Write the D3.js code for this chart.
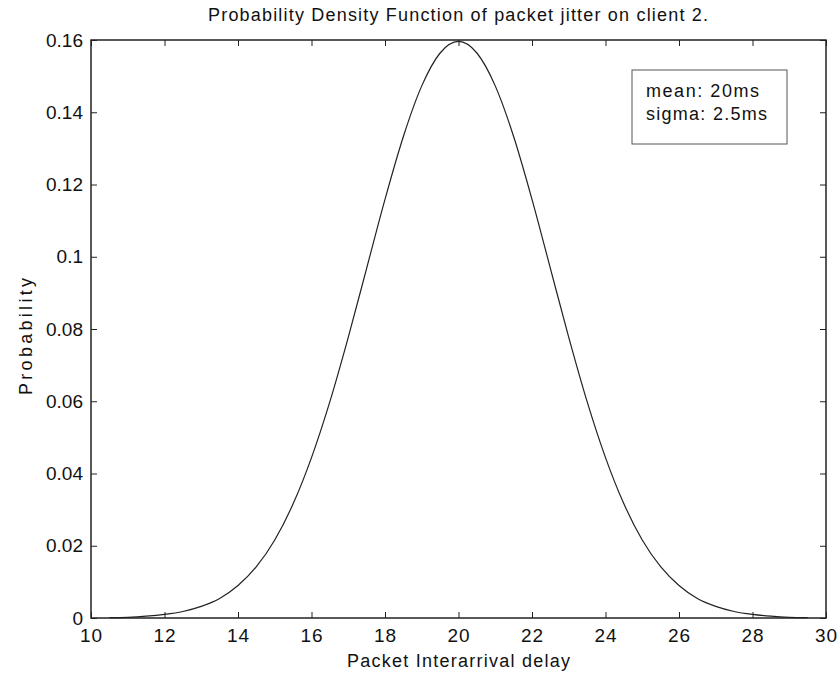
<!DOCTYPE html>
<html>
<head>
<meta charset="utf-8">
<script src="https://cdn.jsdelivr.net/npm/d3@7"></script>
<style>
  body { margin: 0; background: #fff; }
  svg { display: block; }
  text { font-family: "Liberation Sans", Arial, sans-serif; fill: #111; }
  .tick text { font-size: 19px; fill: #111; }
</style>
</head>
<body>
<div class="chart"></div>
<script>
const WIDTH = 840;
const HEIGHT = 676;

const LEFT = 91, RIGHT = 826, TOP = 40, BOTTOM = 618;

// delay (ms) and probability
var delays = [10.5, 11, 11.5, 12, 12.5, 13, 13.5, 14, 14.5, 15, 15.5, 16, 16.5, 17, 17.5, 18, 18.5, 19, 19.5, 20,
              20.5, 21, 21.5, 22, 22.5, 23, 23.5, 24, 24.5, 25, 25.5, 26, 26.5, 27, 27.5, 28, 28.5, 29, 29.5];
var probs = [0.0001, 0.0002, 0.0005, 0.0010, 0.0018, 0.0032, 0.0054, 0.0090, 0.0142, 0.0216, 0.0316, 0.0444, 0.0599,
             0.0777, 0.0968, 0.1159, 0.1333, 0.1473, 0.1564, 0.1596,
             0.1564, 0.1473, 0.1333, 0.1159, 0.0968, 0.0777, 0.0599, 0.0444, 0.0316, 0.0216, 0.0142, 0.0090,
             0.0054, 0.0032, 0.0018, 0.0010, 0.0005, 0.0002, 0.0001];

var xTicks = [10, 12, 14, 16, 18, 20, 22, 24, 26, 28, 30];
var yTicks = [0, 0.02, 0.04, 0.06, 0.08, 0.1, 0.12, 0.14, 0.16];
var legendLines = ["mean: 20ms", "sigma: 2.5ms"];

var title = "Probability Density Function of packet jitter on client 2.";
var xLabel = "Packet Interarrival delay";
var yLabel = "Probability";

var svg = d3.select('.chart').append('svg')
    .attr('width', WIDTH)
    .attr('height', HEIGHT);

var x = d3.scaleLinear().domain([10, 30]).range([LEFT, RIGHT]);
var y = d3.scaleLinear().domain([0, 0.16]).range([BOTTOM, TOP]);

var TL = 6;

// bottom axis with labels
svg.append('g')
    .attr('transform', 'translate(0,' + BOTTOM + ')')
    .call(d3.axisBottom(x).tickValues(xTicks).tickFormat(d3.format('d')).tickSizeInner(-TL).tickSizeOuter(0).tickPadding(11))
    .call(g => g.select('.domain').remove())
    .call(g => g.selectAll('.tick line').attr('stroke', '#222'))
    .call(g => g.selectAll('.tick text').attr('letter-spacing', '1px'));

// top ticks
svg.append('g')
    .attr('transform', 'translate(0,' + TOP + ')')
    .call(d3.axisTop(x).tickValues(xTicks).tickFormat('').tickSizeInner(-TL).tickSizeOuter(0))
    .call(g => g.select('.domain').remove())
    .call(g => g.selectAll('.tick line').attr('stroke', '#222'));

// left axis with labels
svg.append('g')
    .attr('transform', 'translate(' + LEFT + ',0)')
    .call(d3.axisLeft(y).tickValues(yTicks).tickFormat(d => String(+d.toFixed(2))).tickSizeInner(-TL).tickSizeOuter(0).tickPadding(8))
    .call(g => g.select('.domain').remove())
    .call(g => g.selectAll('.tick line').attr('stroke', '#222'));

// right ticks
svg.append('g')
    .attr('transform', 'translate(' + RIGHT + ',0)')
    .call(d3.axisRight(y).tickValues(yTicks).tickFormat('').tickSizeInner(-TL).tickSizeOuter(0))
    .call(g => g.select('.domain').remove())
    .call(g => g.selectAll('.tick line').attr('stroke', '#222'));

// frame
svg.append('rect')
    .attr('x', LEFT).attr('y', TOP)
    .attr('width', RIGHT - LEFT).attr('height', BOTTOM - TOP)
    .attr('fill', 'none').attr('stroke', '#222').attr('stroke-width', 1.5);

// the curve
var line = d3.line()
    .x((d, i) => x(delays[i]))
    .y(d => y(d))
    .curve(d3.curveMonotoneX);

svg.append('path')
    .attr('d', line(probs))
    .attr('fill', 'none')
    .attr('stroke', '#222')
    .attr('stroke-width', 1.2);

// legend box
svg.append('rect')
    .attr('x', 632).attr('y', 70)
    .attr('width', 155).attr('height', 74)
    .attr('fill', '#fff').attr('stroke', '#555').attr('stroke-width', 1);

var legendWidths = [113, 121];
svg.append('g').selectAll('text').data(legendLines)
    .enter().append('text')
    .attr('x', 646)
    .attr('y', (d, i) => 97 + i * 23)
    .attr('textLength', (d, i) => legendWidths[i])
    .attr('lengthAdjust', 'spacing')
    .style('font-size', '18px')
    .text(d => d);

// title and labels
svg.append('text')
    .attr('x', 208).attr('y', 21)
    .attr('textLength', 500)
    .attr('lengthAdjust', 'spacing')
    .style('font-size', '18px')
    .text(title);

svg.append('text')
    .attr('x', 347).attr('y', 667)
    .attr('textLength', 223)
    .attr('lengthAdjust', 'spacing')
    .style('font-size', '18px')
    .text(xLabel);

svg.append('text')
    .attr('transform', 'translate(32,395) rotate(-90)')
    .attr('textLength', 117)
    .attr('lengthAdjust', 'spacing')
    .style('font-size', '18px')
    .text(yLabel);
</script>
</body>
</html>
